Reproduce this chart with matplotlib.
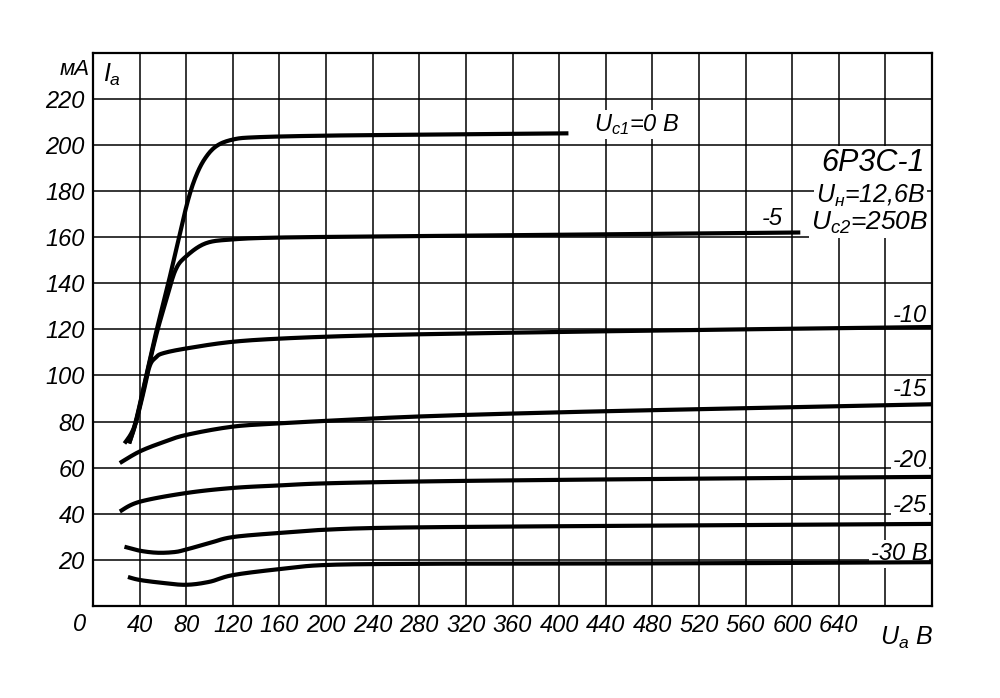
import numpy as np
import matplotlib.pyplot as plt

# Анодные характеристики 6Р3С-1, Uн = 12,6 В, Uс2 = 250 В
# Uc1 = 0
ua_0 = [27, 33, 37, 45.5, 54.3, 63.9, 73, 81, 88, 96, 106, 120, 140, 200, 300, 408]
ia_0 = [70.5, 75, 80.7, 99.4, 119, 138.5, 158, 175, 186, 194, 199.5, 202.3, 203.3, 204, 204.5, 205]
# Uc1 = -5
ua_5 = [31, 37, 45.5, 54.5, 63, 70.8, 79.6, 96.7, 120, 160, 250, 400, 607]
ia_5 = [70.5, 80, 99, 118, 133, 145.7, 151.5, 157.3, 159, 159.8, 160.3, 161, 162]
# Uc1 = -10
ua_10 = [31, 37, 43, 48.6, 54, 60, 80, 120, 170, 240, 320, 420, 560, 720]
ia_10 = [70.5, 80, 92, 104, 107.8, 109.6, 111.7, 114.6, 116.2, 117.4, 118.2, 119, 120, 121]
# Uc1 = -15
ua_15 = [23, 40, 60, 80, 120, 160, 200, 280, 400, 560, 720]
ia_15 = [62, 67, 71, 74.2, 77.8, 79.2, 80.3, 82.2, 84, 85.8, 87.5]
# Uc1 = -20
ua_20 = [23, 40, 80, 120, 160, 200, 280, 400, 560, 720]
ia_20 = [41, 45.2, 49, 51.2, 52.3, 53.2, 54, 54.7, 55.4, 56]
# Uc1 = -25
ua_25 = [27, 40, 55, 70, 80, 100, 120, 160, 200, 260, 400, 560, 720]
ia_25 = [25.7, 24, 23.1, 23.4, 24.5, 27.3, 29.9, 31.7, 33.1, 34, 34.6, 35.1, 35.6]
# Uc1 = -30
ua_30 = [30, 40, 60, 80, 100, 120, 160, 200, 280, 400, 560, 720]
ia_30 = [12.6, 11.3, 10, 9.2, 10.5, 13.4, 16, 17.8, 18.3, 18.4, 18.6, 19]

curves = [(ua_0, ia_0), (ua_5, ia_5), (ua_10, ia_10), (ua_15, ia_15),
          (ua_20, ia_20), (ua_25, ia_25), (ua_30, ia_30)]

x_ticks = list(range(0, 721, 40))
x_labels = [str(v) if 40 <= v <= 640 else '' for v in x_ticks]
y_ticks = list(range(0, 241, 20))
y_labels = [str(v) if 20 <= v <= 220 else '' for v in y_ticks]


def smooth(x, y, n=14):
    # сглаживание Catmull-Rom только для отрисовки
    p = np.column_stack([x, y]).astype(float)
    p = np.vstack([p[0], p, p[-1]])
    t = np.linspace(0, 1, n, endpoint=False)[:, None]
    out = []
    for i in range(1, len(p) - 2):
        p0, p1, p2, p3 = p[i - 1], p[i], p[i + 1], p[i + 2]
        out.append(0.5 * (2 * p1 + (-p0 + p2) * t
                          + (2 * p0 - 5 * p1 + 4 * p2 - p3) * t ** 2
                          + (-p0 + 3 * p1 - 3 * p2 + p3) * t ** 3))
    out.append(p[-2][None])
    r = np.vstack(out)
    return r[:, 0], r[:, 1]


plt.rcParams['font.family'] = ['Liberation Sans', 'DejaVu Sans']
plt.rcParams['font.style'] = 'italic'
plt.rcParams['mathtext.fontset'] = 'custom'
plt.rcParams['mathtext.it'] = 'Liberation Sans:italic'
plt.rcParams['mathtext.rm'] = 'Liberation Sans:italic'

fig = plt.figure(figsize=(10, 6.98), dpi=100)
ax = fig.add_axes([0.093, 0.1318, 0.839, 0.7928])
ax.set_xlim(0, 720)
ax.set_ylim(0, 240)

ax.set_xticks(x_ticks)
ax.set_xticklabels(x_labels, fontsize=17, style='italic')
ax.set_yticks(y_ticks)
ax.set_yticklabels(y_labels, fontsize=17, style='italic')
ax.tick_params(length=0, pad=6)
ax.grid(True, color='black', lw=1.1)
for s in ax.spines.values():
    s.set_linewidth(1.6)
    s.set_zorder(5)

for ua, ia in curves:
    xs, ys = smooth(ua, ia)
    ax.plot(xs, ys, color='black', lw=3.0, solid_capstyle='butt', zorder=4)

box = dict(facecolor='white', edgecolor='none', pad=1.5)

# подписи осей
ax.text(-0.016, -0.033, '0', transform=ax.transAxes, ha='center', va='center', fontsize=17)
ax.text(-0.004, 0.97, 'мА', transform=ax.transAxes, ha='right', va='center', fontsize=16)
ax.text(0.012, 0.96, '$I_{а}$', transform=ax.transAxes, ha='left', va='center', fontsize=18,
        bbox=box, zorder=3)
ax.text(0.938, -0.057, '$U_{а}$ В', transform=ax.transAxes, ha='left', va='center', fontsize=18)

# подписи кривых
ax.text(467, 209, '$U_{с1}$=0 В', ha='center', va='center', fontsize=17, bbox=box, zorder=3)
ax.text(583, 168, '-5', ha='center', va='center', fontsize=17, bbox=box, zorder=3)
for txt, yy in [('-10', 126), ('-15', 93.7), ('-20', 63), ('-25', 43.4), ('-30 В', 22.6)]:
    ax.text(716, yy, txt, ha='right', va='center', fontsize=17, bbox=box, zorder=3)

ax.text(714, 192, '6Р3С-1', ha='right', va='center', fontsize=22, bbox=box, zorder=3)
ax.text(714, 178, '$U_{н}$=12,6В', ha='right', va='center', fontsize=18, bbox=box, zorder=3)
ax.text(717, 166, '$U_{с2}$=250В', ha='right', va='center', fontsize=19, bbox=box, zorder=3)

plt.savefig('out.png', dpi=100)
